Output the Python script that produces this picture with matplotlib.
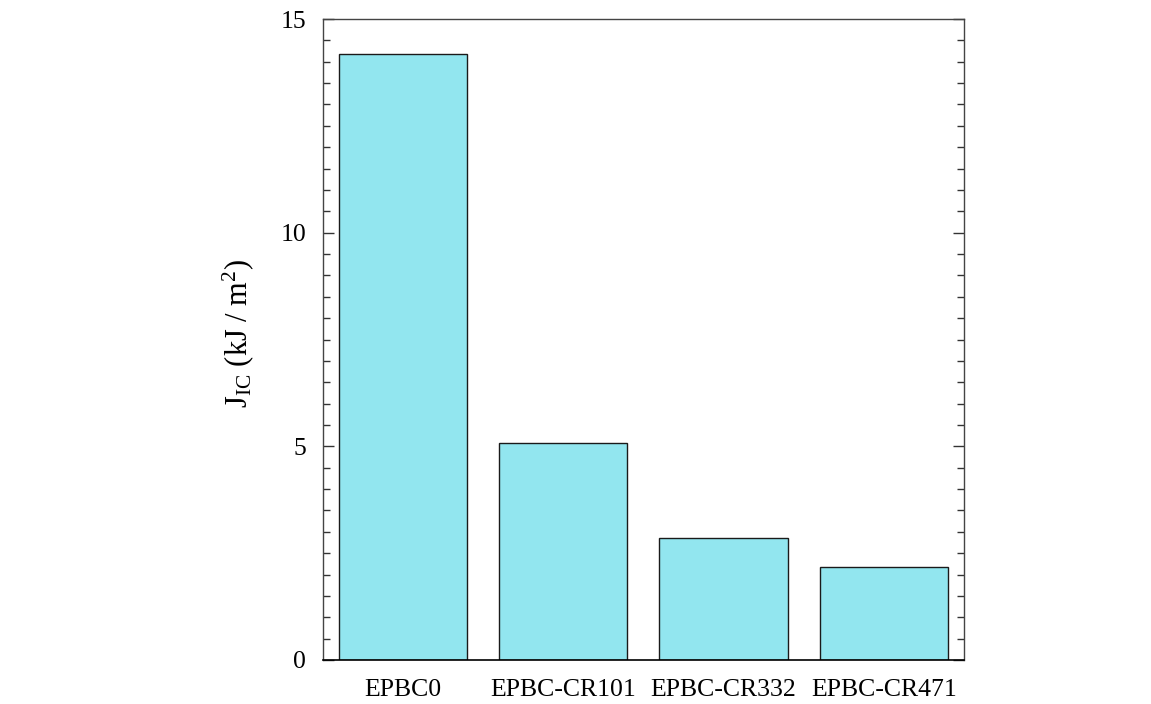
import matplotlib
matplotlib.use("Agg")
import matplotlib.pyplot as plt
from matplotlib.ticker import MultipleLocator

samples = ["EPBC0", "EPBC-CR101", "EPBC-CR332", "EPBC-CR471"]
jic_values = [14.18, 5.08, 2.86, 2.18]
y_ticks = [0, 5, 10, 15]

plt.rcParams["font.family"] = ["Liberation Serif", "DejaVu Serif"]
plt.rcParams["mathtext.fontset"] = "custom"
plt.rcParams["mathtext.rm"] = "Liberation Serif"
plt.rcParams["mathtext.it"] = "Liberation Serif"

fig = plt.figure(figsize=(11.51, 7.04), dpi=100)
ax = fig.add_axes([0.2806, 0.0625, 0.5569, 0.9105])

x = range(len(samples))
ax.bar(x, jic_values, width=0.8, color="#92e6ef", edgecolor="#1a1a1a", linewidth=1.0)

ax.set_xlim(-0.5, 3.5)
ax.set_ylim(0, 15)
ax.set_xticks(list(x))
ax.set_xticklabels(samples, fontsize=18.5)
ax.set_yticks(y_ticks)
ax.set_yticklabels([str(t) for t in y_ticks], fontsize=18.5)
ax.yaxis.set_minor_locator(MultipleLocator(0.5))

ax.tick_params(axis="x", length=0, pad=14)
ax.tick_params(axis="y", which="major", direction="in", length=8, width=1.0,
               left=True, right=True, pad=12, color="#333333")
ax.tick_params(axis="y", which="minor", direction="in", length=5, width=1.0,
               left=True, right=True, color="#333333")

for side in ["left", "right", "top"]:
    ax.spines[side].set_color("#444444")
    ax.spines[side].set_linewidth(1.0)
ax.spines["bottom"].set_color("black")
ax.spines["bottom"].set_linewidth(1.2)

ax.set_ylabel(r"J$_{\mathrm{IC}}$ (kJ / m$^{2}$)", fontsize=22)
ax.yaxis.set_label_coords(-0.104, 0.51)

fig.savefig("out.png", dpi=100)
